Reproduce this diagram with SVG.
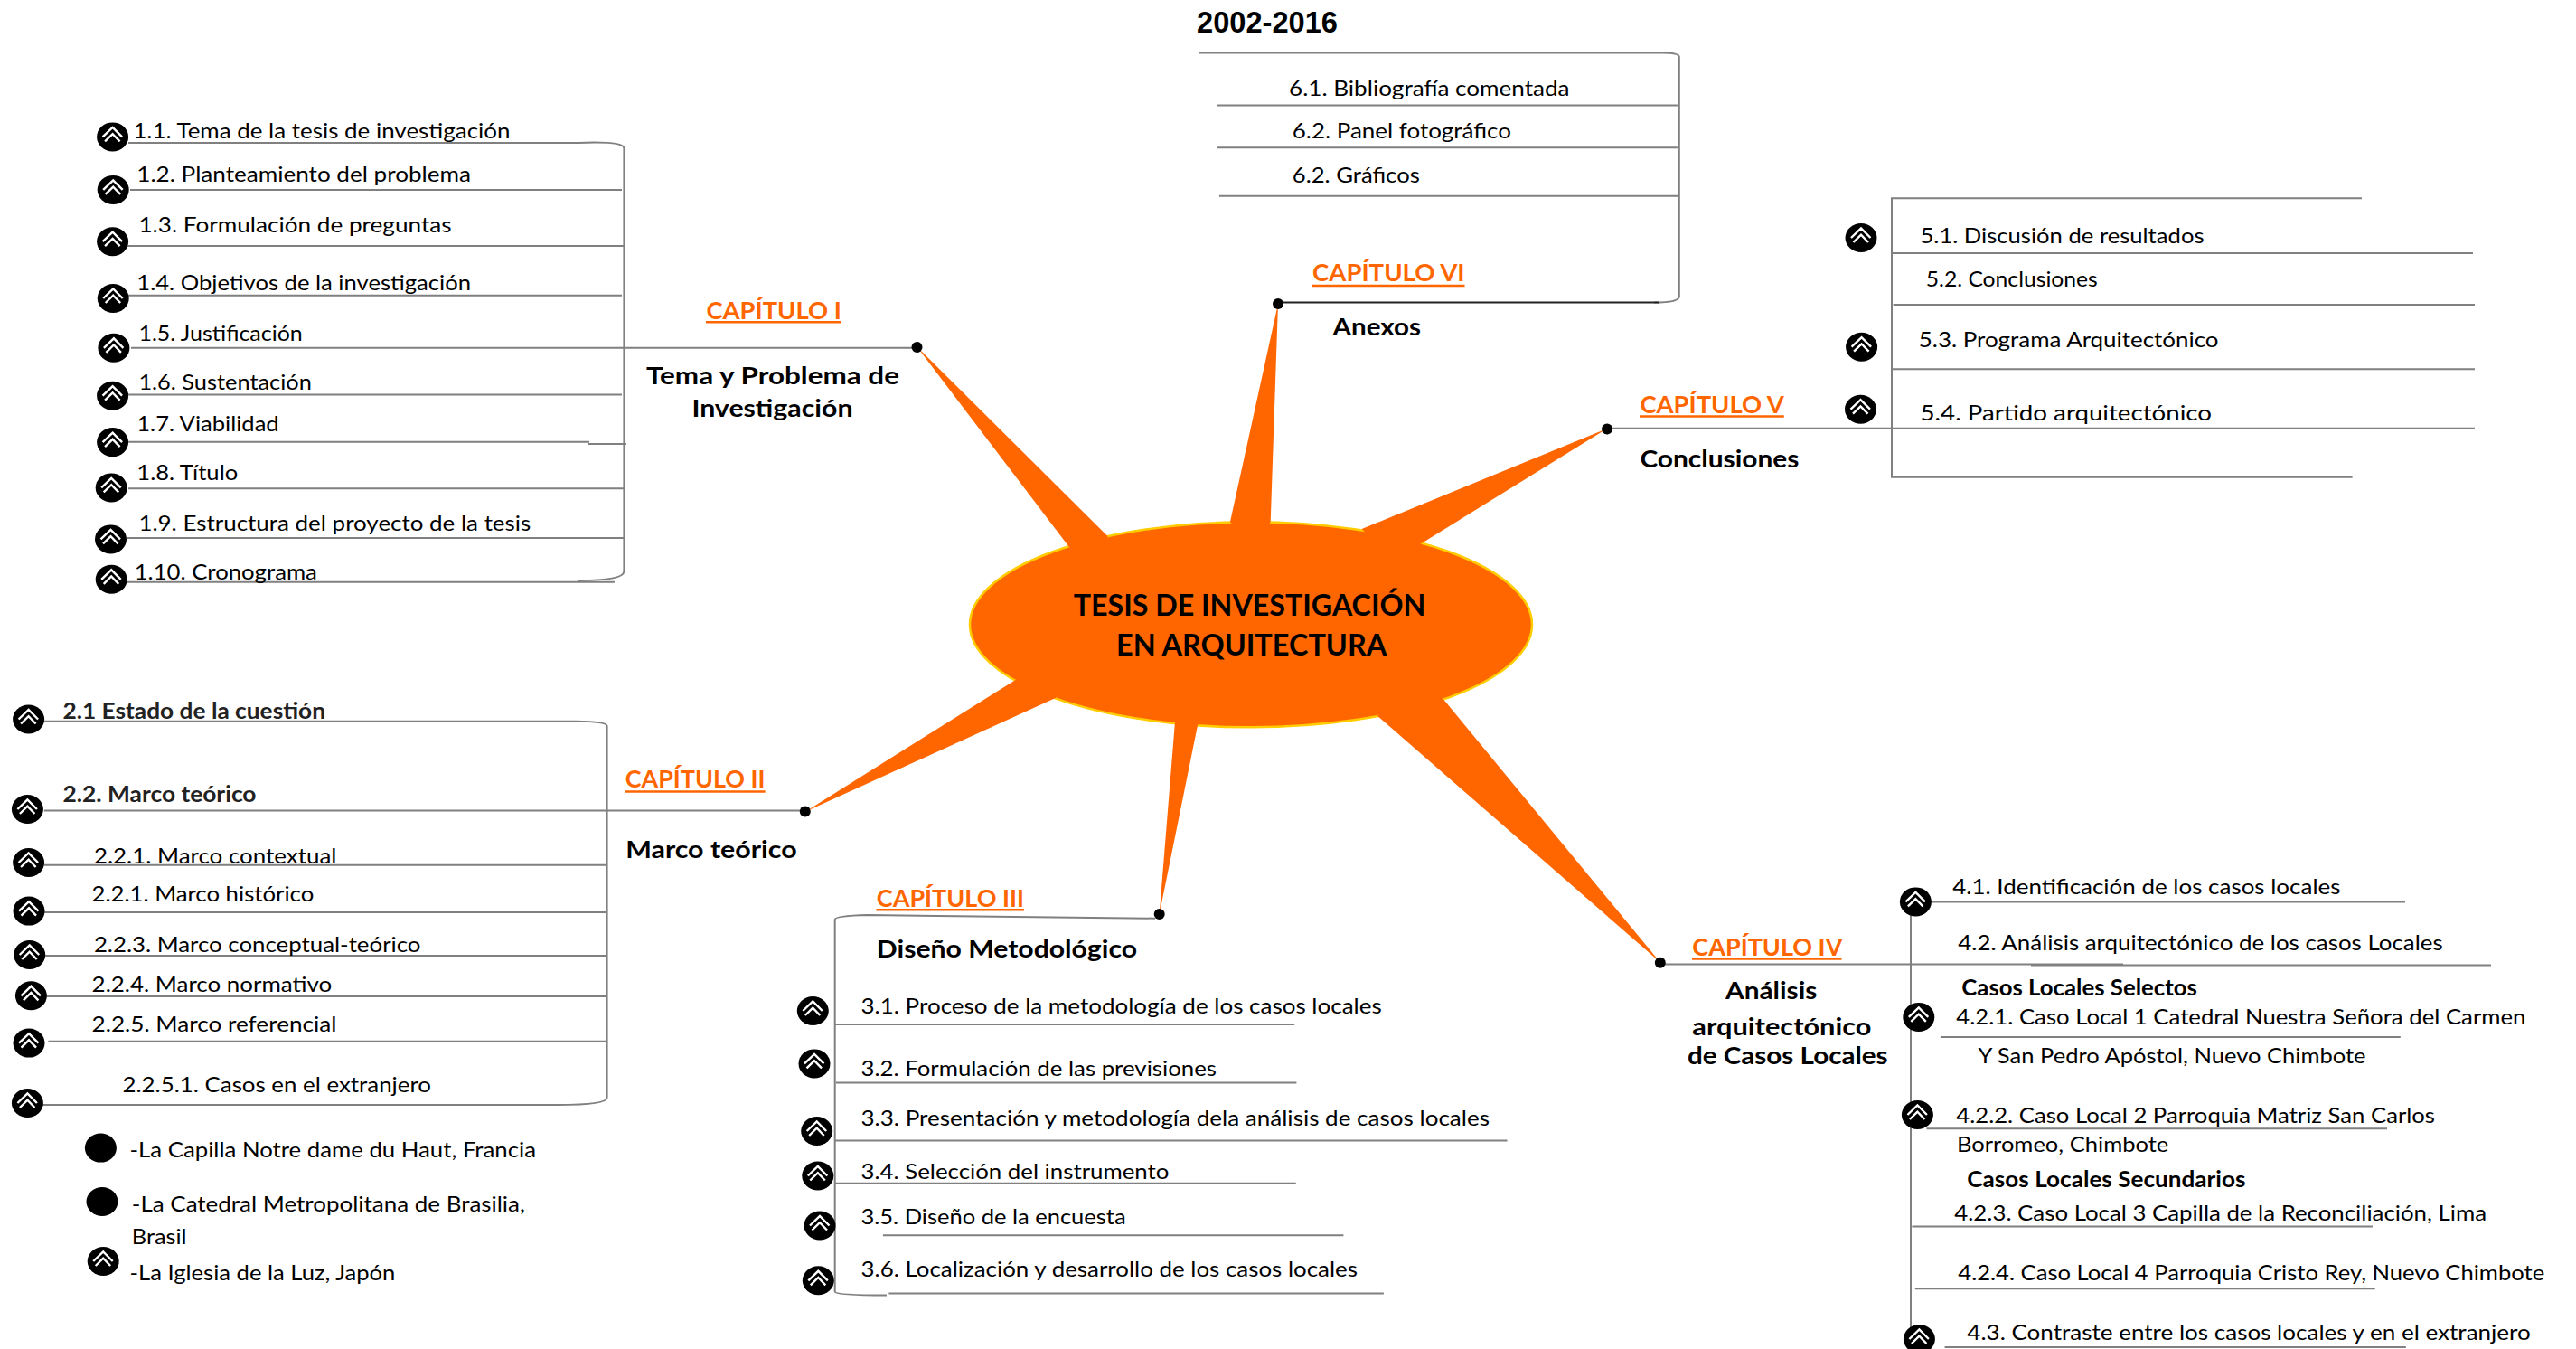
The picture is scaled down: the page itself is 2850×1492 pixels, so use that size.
<svg xmlns="http://www.w3.org/2000/svg" width="2850" height="1492" viewBox="0 0 2850 1492">
<style>
text{font-family:"Lato","Open Sans","Liberation Sans",sans-serif;fill:#000;font-size:24px}
.bd{font-weight:700}
.dg{font-weight:700;fill:#222}
.sub{font-weight:700;font-size:27px}
.cap{font-weight:700;font-size:27px;fill:#ff6600}
.year{font-family:"Liberation Sans",Arial,sans-serif;font-weight:700;font-size:33px}
.ttl{font-weight:700;font-size:33px}
.l{stroke:#808080;stroke-width:2;fill:none}
.dk{stroke:#222;stroke-width:2;fill:none}
.u{stroke:#ff6600;stroke-width:2.5;fill:none}
.dot{fill:#000}
.spike{fill:#ff6600}
.chev{fill:none;stroke:#fff;stroke-width:2.4}
</style>
<defs>
<g id="b"><ellipse cx="0" cy="0" rx="17.5" ry="16" fill="#000"/><path class="chev" d="M-11 0L0-10.5L10.5 0M-8.5 5L0-3.3L8 5"/></g>
</defs>
<rect width="2850" height="1492" fill="#fff"/>

<g id="connectors">
<path class="l" d="M142 158H640Q690 156 690.4 164V632Q690 642 640 642"/>
<path class="l" d="M144 210H688M141 272H690M136 326.700H688M145 384.800H1009M137 436.600H688M142 488.800H652M651 491H693M142 540.200H690M140 594.900H690M140 643.800H680"/>
<path class="l" d="M1327 58.500H1840Q1857.800 58.500 1857.800 63V328Q1857.800 334.500 1830 334.500"/>
<path class="dk" d="M1414 334.500H1835"/>
<path class="l" d="M1346.300 116.600H1855.900M1346.300 163.300H1855.900M1348.900 216.700H1857"/>
<path class="l" d="M2613 219.300H2093V527.700H2602.600"/>
<path class="l" d="M2093 280H2736M2094.600 337H2738M2093 408.300H2738M1778 473.700H2738"/>
<path class="l" d="M48.800 797.800H637Q671.600 798 671.600 803V1214Q671.600 1222 617 1222H46"/>
<path class="l" d="M48.800 896.400H887M49 956.700H671M49 1009H671M49 1057H671M51.700 1102H671M53.400 1151.800H671"/>
<path class="l" d="M1278 1015.700L960 1012Q923.700 1013 923.700 1017V1428.700Q925 1432.500 981 1432.500"/>
<path class="l" d="M923.700 1132.900H1432.200M924.800 1197.500H1434.400M923.700 1261.400H1667.500M923.700 1308.800H1433.800M976.900 1366.200H1486.400M983.400 1430.500H1530.900"/>
<path class="l" d="M2114 997.400V1492"/>
<path class="l" d="M1840 1066.500H2349M2247 1067.500H2756"/>
<path class="l" d="M2134.800 997.400H2661M2146.900 1147H2655.800M2131.500 1248.300H2641M2115.400 1356.500H2625M2118.800 1425.300H2627.700M2151.600 1490H2661.800"/>
</g>

<g id="center">
<ellipse cx="1384" cy="690.800" rx="311" ry="113.500" fill="#ff6600" stroke="#ffcc00" stroke-width="2.500"/>
<polygon class="spike" points="1014.500,383.500 1182.300,604.300 1210,630 1225.700,593.300"/>
<polygon class="spike" points="1414,336 1361,577 1385,610 1405.700,577"/>
<polygon class="spike" points="1778,474 1506.700,585 1540,620 1572.700,601"/>
<polygon class="spike" points="1836.700,1064.300 1524,791.700 1550,760 1596.700,773"/>
<polygon class="spike" points="1282.700,1011 1300,798.300 1312,770 1325.300,800.700"/>
<polygon class="spike" points="891,897.700 1124,751.700 1150,740 1168.300,771.700"/>
<text class="ttl" x="1187.700" y="680.700" textLength="389.600" lengthAdjust="spacingAndGlyphs">TESIS DE INVESTIGACIÓN</text>
<text class="ttl" x="1235" y="725" textLength="299.300" lengthAdjust="spacingAndGlyphs">EN ARQUITECTURA</text>
</g>

<g id="year"><text class="year" x="1324" y="35.600" textLength="156" lengthAdjust="spacingAndGlyphs">2002-2016</text></g>

<g id="cap1"><ellipse class="dot" cx="1014.500" cy="384" rx="6" ry="6"/>
<text class="cap" x="781.500" y="352.600" textLength="149.300" lengthAdjust="spacingAndGlyphs">CAPÍTULO I</text><path class="u" d="M781 356.300H931"/>
<text class="sub" x="715" y="424.800" textLength="280" lengthAdjust="spacingAndGlyphs">Tema y Problema de</text>
<text class="sub" x="765.400" y="460.700" textLength="178.100" lengthAdjust="spacingAndGlyphs">Investigación</text></g>
<g id="n1-1"><use href="#b" x="124.600" y="151.400"/><text x="147.300" y="152.500" textLength="417.200" lengthAdjust="spacingAndGlyphs">1.1. Tema de la tesis de investigación</text></g>
<g id="n1-2"><use href="#b" x="125.200" y="209.900"/><text x="151.300" y="201" textLength="369.700" lengthAdjust="spacingAndGlyphs">1.2. Planteamiento del problema</text></g>
<g id="n1-3"><use href="#b" x="124.600" y="267.200"/><text x="153.400" y="257.200" textLength="346.200" lengthAdjust="spacingAndGlyphs">1.3. Formulación de preguntas</text></g>
<g id="n1-4"><use href="#b" x="125.200" y="330"/><text x="151.300" y="320.800" textLength="369.700" lengthAdjust="spacingAndGlyphs">1.4. Objetivos de la investigación</text></g>
<g id="n1-5"><use href="#b" x="125.900" y="384.800"/><text x="153.400" y="377" textLength="181.400" lengthAdjust="spacingAndGlyphs">1.5. Justificación</text></g>
<g id="n1-6"><use href="#b" x="124.600" y="437.700"/><text x="153.400" y="431" textLength="191.500" lengthAdjust="spacingAndGlyphs">1.6. Sustentación</text></g>
<g id="n1-7"><use href="#b" x="124.600" y="489.100"/><text x="151.300" y="476.600" textLength="157.400" lengthAdjust="spacingAndGlyphs">1.7. Viabilidad</text></g>
<g id="n1-8"><use href="#b" x="123.200" y="539.400"/><text x="151.300" y="531" textLength="111.900" lengthAdjust="spacingAndGlyphs">1.8. Título</text></g>
<g id="n1-9"><use href="#b" x="122.500" y="596.400"/><text x="153.400" y="587" textLength="433.900" lengthAdjust="spacingAndGlyphs">1.9. Estructura del proyecto de la tesis</text></g>
<g id="n1-10"><use href="#b" x="123.200" y="640.800"/><text x="148.700" y="640.800" textLength="202.200" lengthAdjust="spacingAndGlyphs">1.10. Cronograma</text></g>

<g id="cap6"><ellipse class="dot" cx="1414" cy="336" rx="6" ry="6"/>
<text class="cap" x="1452" y="310.800" textLength="168.500" lengthAdjust="spacingAndGlyphs">CAPÍTULO VI</text><path class="u" d="M1452 316H1620.500"/>
<text class="sub" x="1474.500" y="370.500" textLength="97.500" lengthAdjust="spacingAndGlyphs">Anexos</text></g>
<g id="n6-1"><text x="1426" y="106" textLength="310.600" lengthAdjust="spacingAndGlyphs">6.1. Bibliografía comentada</text></g>
<g id="n6-2"><text x="1429.800" y="153.400" textLength="242.200" lengthAdjust="spacingAndGlyphs">6.2. Panel fotográfico</text></g>
<g id="n6-3"><text x="1429.800" y="201.700" textLength="141" lengthAdjust="spacingAndGlyphs">6.2. Gráficos</text></g>

<g id="cap5"><ellipse class="dot" cx="1778" cy="474.500" rx="6" ry="6"/>
<text class="cap" x="1814.400" y="456.700" textLength="159.400" lengthAdjust="spacingAndGlyphs">CAPÍTULO V</text><path class="u" d="M1814 460.500H1973.800"/>
<text class="sub" x="1814.400" y="516.800" textLength="176" lengthAdjust="spacingAndGlyphs">Conclusiones</text></g>
<g id="n5-1"><use href="#b" x="2059" y="263"/><text x="2124.500" y="269" textLength="314" lengthAdjust="spacingAndGlyphs">5.1. Discusión de resultados</text></g>
<g id="n5-2"><text x="2130.800" y="317" textLength="190" lengthAdjust="spacingAndGlyphs">5.2. Conclusiones</text></g>
<g id="n5-3"><use href="#b" x="2059.600" y="383.700"/><text x="2122.800" y="384.300" textLength="331.700" lengthAdjust="spacingAndGlyphs">5.3. Programa Arquitectónico</text></g>
<g id="n5-4"><use href="#b" x="2058.500" y="452.700"/><text x="2124.500" y="465" textLength="322.500" lengthAdjust="spacingAndGlyphs">5.4. Partido arquitectónico</text></g>

<g id="cap2"><ellipse class="dot" cx="890.800" cy="897.500" rx="6" ry="6"/>
<text class="cap" x="691.700" y="870.500" textLength="154.900" lengthAdjust="spacingAndGlyphs">CAPÍTULO II</text><path class="u" d="M691.700 875.400H846.600"/>
<text class="sub" x="692.200" y="948.700" textLength="189.400" lengthAdjust="spacingAndGlyphs">Marco teórico</text></g>
<g id="n2-1"><use href="#b" x="31.600" y="795.500"/><text class="dg" x="69.500" y="794.600" textLength="290.500" lengthAdjust="spacingAndGlyphs">2.1 Estado de la cuestión</text></g>
<g id="n2-2"><use href="#b" x="30.400" y="895"/><text class="dg" x="69.500" y="886.600" textLength="214" lengthAdjust="spacingAndGlyphs">2.2. Marco teórico</text></g>
<g id="n2-3"><use href="#b" x="31.600" y="954"/><text x="103.900" y="954.500" textLength="268.600" lengthAdjust="spacingAndGlyphs">2.2.1. Marco contextual</text></g>
<g id="n2-4"><use href="#b" x="32" y="1007.600"/><text x="101.600" y="996.900" textLength="245.700" lengthAdjust="spacingAndGlyphs">2.2.1. Marco histórico</text></g>
<g id="n2-5"><use href="#b" x="32.700" y="1056"/><text x="103.900" y="1053" textLength="361.600" lengthAdjust="spacingAndGlyphs">2.2.3. Marco conceptual-teórico</text></g>
<g id="n2-6"><use href="#b" x="34.400" y="1101.300"/><text x="101.600" y="1096.900" textLength="265.700" lengthAdjust="spacingAndGlyphs">2.2.4. Marco normativo</text></g>
<g id="n2-7"><use href="#b" x="32" y="1153.600"/><text x="101.600" y="1141" textLength="270.900" lengthAdjust="spacingAndGlyphs">2.2.5. Marco referencial</text></g>
<g id="n2-8"><use href="#b" x="30.400" y="1220"/><text x="135.500" y="1208" textLength="341.500" lengthAdjust="spacingAndGlyphs">2.2.5.1. Casos en el extranjero</text></g>
<g id="n2-9"><ellipse class="dot" cx="111.400" cy="1269.600" rx="17.500" ry="16"/><text x="143.500" y="1280" textLength="449.500" lengthAdjust="spacingAndGlyphs">-La Capilla Notre dame du Haut, Francia</text></g>
<g id="n2-10"><ellipse class="dot" cx="113" cy="1329" rx="17.500" ry="16"/><text x="145.800" y="1340" textLength="435.100" lengthAdjust="spacingAndGlyphs">-La Catedral Metropolitana de Brasilia,</text><text x="145.800" y="1375.900" textLength="60.800" lengthAdjust="spacingAndGlyphs">Brasil</text></g>
<g id="n2-11"><use href="#b" x="114.200" y="1395"/><text x="143.500" y="1416" textLength="293.900" lengthAdjust="spacingAndGlyphs">-La Iglesia de la Luz, Japón</text></g>

<g id="cap3"><ellipse class="dot" cx="1282.700" cy="1011" rx="6" ry="6"/>
<text class="cap" x="969.800" y="1002.500" textLength="163.200" lengthAdjust="spacingAndGlyphs">CAPÍTULO III</text><path class="u" d="M969.500 1006.300H1133"/>
<text class="sub" x="969.800" y="1058.900" textLength="288.200" lengthAdjust="spacingAndGlyphs">Diseño Metodológico</text></g>
<g id="n3-1"><use href="#b" x="899.300" y="1118"/><text x="952.500" y="1121" textLength="576.200" lengthAdjust="spacingAndGlyphs">3.1. Proceso de la metodología de los casos locales</text></g>
<g id="n3-2"><use href="#b" x="901" y="1176.400"/><text x="952.500" y="1189.900" textLength="393.500" lengthAdjust="spacingAndGlyphs">3.2. Formulación de las previsiones</text></g>
<g id="n3-3"><use href="#b" x="903.700" y="1251"/><text x="952.500" y="1244.500" textLength="695.500" lengthAdjust="spacingAndGlyphs">3.3. Presentación y metodología dela análisis de casos locales</text></g>
<g id="n3-4"><use href="#b" x="904.800" y="1300.500"/><text x="952.500" y="1304" textLength="340.900" lengthAdjust="spacingAndGlyphs">3.4. Selección del instrumento</text></g>
<g id="n3-5"><use href="#b" x="907" y="1355.500"/><text x="952.500" y="1354" textLength="293.200" lengthAdjust="spacingAndGlyphs">3.5. Diseño de la encuesta</text></g>
<g id="n3-6"><use href="#b" x="905.300" y="1416.300"/><text x="952.500" y="1412" textLength="549.500" lengthAdjust="spacingAndGlyphs">3.6. Localización y desarrollo de los casos locales</text></g>

<g id="cap4"><ellipse class="dot" cx="1836.800" cy="1064.800" rx="6" ry="6"/>
<text class="cap" x="1872.300" y="1056.800" textLength="166.100" lengthAdjust="spacingAndGlyphs">CAPÍTULO IV</text><path class="u" d="M1872 1060.600H2037.500"/>
<text class="sub" x="1909" y="1104.500" textLength="101.300" lengthAdjust="spacingAndGlyphs">Análisis</text>
<text class="sub" x="1872.300" y="1144.600" textLength="198.200" lengthAdjust="spacingAndGlyphs">arquitectónico</text>
<text class="sub" x="1867" y="1177.400" textLength="221.600" lengthAdjust="spacingAndGlyphs">de Casos Locales</text></g>
<g id="n4-1"><use href="#b" x="2119.400" y="997.400"/><text x="2160.300" y="989" textLength="429.200" lengthAdjust="spacingAndGlyphs">4.1. Identificación de los casos locales</text></g>
<g id="n4-2"><text x="2166.300" y="1051" textLength="536.400" lengthAdjust="spacingAndGlyphs">4.2. Análisis arquitectónico de los casos Locales</text></g>
<g id="n4-h1"><text class="bd" x="2170.300" y="1100.700" textLength="260.500" lengthAdjust="spacingAndGlyphs">Casos Locales Selectos</text></g>
<g id="n4-3"><use href="#b" x="2122.800" y="1124.900"/><text x="2164.300" y="1132.500" textLength="630.100" lengthAdjust="spacingAndGlyphs">4.2.1. Caso Local 1 Catedral Nuestra Señora del Carmen</text><text x="2188.400" y="1176" textLength="429.200" lengthAdjust="spacingAndGlyphs">Y San Pedro Apóstol, Nuevo Chimbote</text></g>
<g id="n4-4"><use href="#b" x="2121.400" y="1233"/><text x="2164.300" y="1242.400" textLength="529.700" lengthAdjust="spacingAndGlyphs">4.2.2. Caso Local 2 Parroquia Matriz San Carlos</text><text x="2165" y="1273.900" textLength="234.300" lengthAdjust="spacingAndGlyphs">Borromeo, Chimbote</text></g>
<g id="n4-h2"><text class="bd" x="2176.300" y="1313.300" textLength="308.100" lengthAdjust="spacingAndGlyphs">Casos Locales Secundarios</text></g>
<g id="n4-5"><text x="2162.300" y="1350" textLength="588.700" lengthAdjust="spacingAndGlyphs">4.2.3. Caso Local 3 Capilla de la Reconciliación, Lima</text></g>
<g id="n4-6"><text x="2166.300" y="1416" textLength="648.900" lengthAdjust="spacingAndGlyphs">4.2.4. Caso Local 4 Parroquia Cristo Rey, Nuevo Chimbote</text></g>
<g id="n4-7"><use href="#b" x="2123.400" y="1481"/><text x="2176.300" y="1482.300" textLength="623.500" lengthAdjust="spacingAndGlyphs">4.3. Contraste entre los casos locales y en el extranjero</text></g>
</svg>
